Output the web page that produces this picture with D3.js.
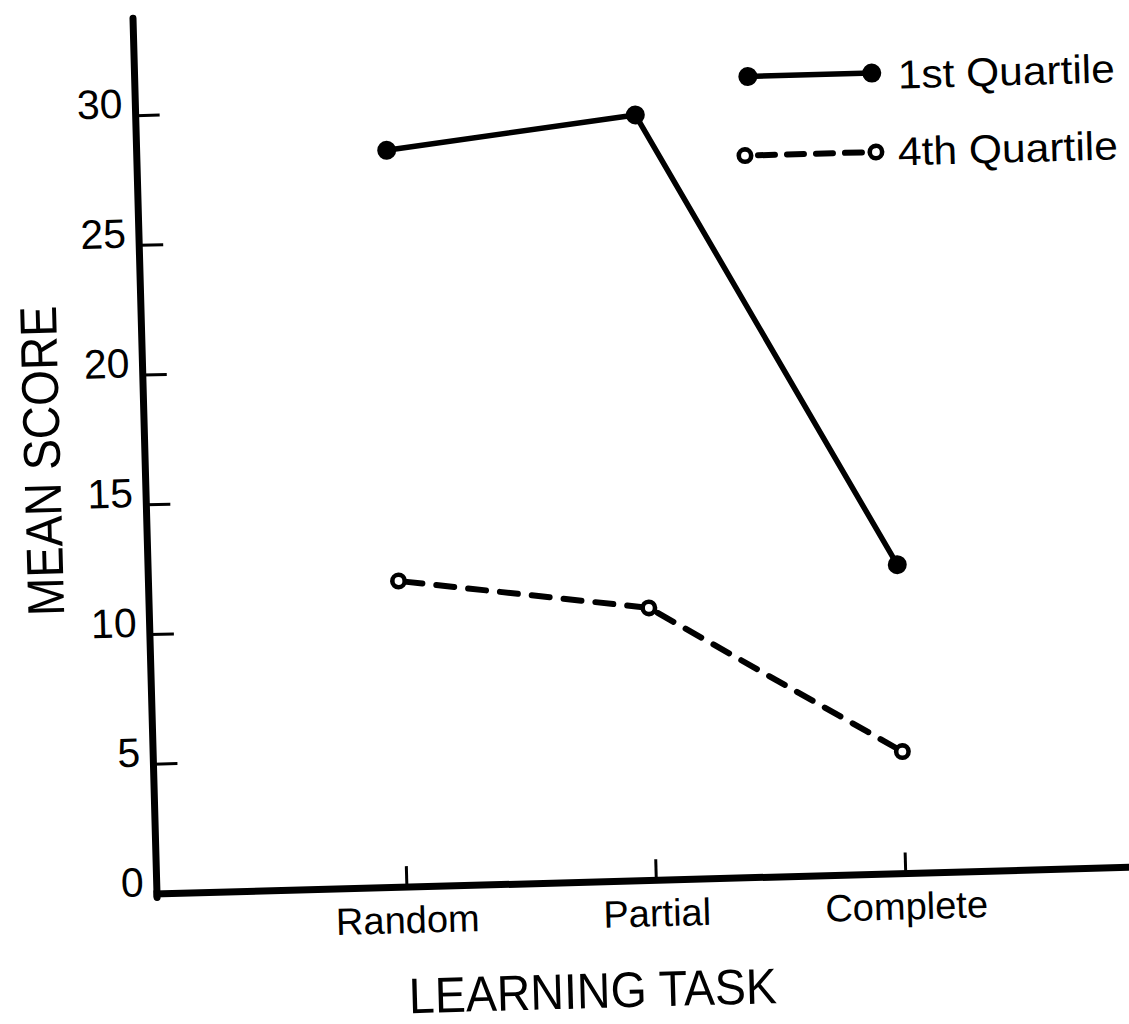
<!DOCTYPE html>
<html>
<head>
<meta charset="utf-8">
<script src="https://cdn.jsdelivr.net/npm/d3@7/dist/d3.min.js"></script>
<style>
  html, body { margin: 0; padding: 0; background: #fff; }
  svg { display: block; }
  text { font-family: "Liberation Sans", Arial, sans-serif; fill: #000; }
</style>
</head>
<body>
<div id="chart"></div>
<script>
// ---- data ----
const categories = ["Random", "Partial", "Complete"];
const q1Values = [28.4, 29.5, 11.9];   // 1st Quartile
const q4Values = [11.8, 10.5, 4.7];    // 4th Quartile
const yTickValues = [0, 5, 10, 15, 20, 25, 30];
const yTickLabels = ["0", "5", "10", "15", "20", "25", "30"];
const seriesNames = ["1st Quartile", "4th Quartile"];
const xTitle = "LEARNING TASK";
const yTitle = "MEAN SCORE";

// ---- layout ----
const W = 1129, H = 1024;
const svg = d3.select("#chart").append("svg").attr("width", W).attr("height", H);

// scanned page is slightly rotated
const g = svg.append("g").attr("transform", "translate(157,894) rotate(-1.57)");

const y = d3.scaleLinear().domain([0, 33.75]).range([0, -876]);
const x = d3.scalePoint().domain(categories).range([250, 749]);

// axes lines
g.append("line").attr("x1", 0).attr("y1", 3.5).attr("x2", 0).attr("y2", y(33.75))
  .attr("stroke", "#000").attr("stroke-width", 7).attr("stroke-linecap", "round");
g.append("line").attr("x1", -3.5).attr("y1", 0).attr("x2", 1010).attr("y2", 0)
  .attr("stroke", "#000").attr("stroke-width", 7);

// y ticks
g.selectAll(".ytick").data(yTickValues.filter(v => v > 0)).enter().append("line")
  .attr("x1", 0).attr("x2", 24).attr("y1", d => y(d)).attr("y2", d => y(d))
  .attr("stroke", "#000").attr("stroke-width", 3);
g.selectAll(".ylab").data(yTickValues).enter().append("text")
  .attr("x", -13).attr("y", d => y(d) + 2)
  .attr("text-anchor", "end").attr("font-size", 41)
  .text((d, i) => yTickLabels[i]);

// x ticks
g.selectAll(".xtick").data(categories).enter().append("line")
  .attr("x1", d => x(d)).attr("x2", d => x(d)).attr("y1", 0).attr("y2", -21)
  .attr("stroke", "#000").attr("stroke-width", 3);
g.selectAll(".xlab").data(categories).enter().append("text")
  .attr("x", d => x(d)).attr("y", 46)
  .attr("text-anchor", "middle").attr("font-size", 38)
  .text(d => d);

// titles
g.append("text").attr("x", 433).attr("y", 126).attr("text-anchor", "middle")
  .attr("font-size", 50).attr("textLength", 368).attr("lengthAdjust", "spacingAndGlyphs")
  .text(xTitle);
g.append("text").attr("transform", "translate(-85,-436) rotate(-90)")
  .attr("text-anchor", "middle").attr("font-size", 52)
  .attr("textLength", 310).attr("lengthAdjust", "spacingAndGlyphs")
  .text(yTitle);

// lines
const line = d3.line().x((d, i) => x(categories[i])).y(d => y(d));
g.append("path").datum(q1Values).attr("d", line)
  .attr("fill", "none").attr("stroke", "#000").attr("stroke-width", 5.5).attr("stroke-linejoin", "round");
g.append("path").datum(q4Values).attr("d", line)
  .attr("fill", "none").attr("stroke", "#000").attr("stroke-width", 6)
  .attr("stroke-dasharray", "18,14").attr("stroke-linecap", "round").attr("stroke-dashoffset", -6);

// markers
g.selectAll(".m1").data(q1Values).enter().append("circle")
  .attr("cx", (d, i) => x(categories[i])).attr("cy", d => y(d)).attr("r", 9.5).attr("fill", "#000");
g.selectAll(".m4").data(q4Values).enter().append("circle")
  .attr("cx", (d, i) => x(categories[i])).attr("cy", d => y(d)).attr("r", 6.2)
  .attr("fill", "#fff").attr("stroke", "#000").attr("stroke-width", 4.6);

// legend
const leg = g.append("g");
leg.append("line").attr("x1", 613).attr("x2", 737).attr("y1", -801).attr("y2", -801)
  .attr("stroke", "#000").attr("stroke-width", 5.5);
leg.selectAll(".lc1").data([613, 737]).enter().append("circle")
  .attr("cx", d => d).attr("cy", -801).attr("r", 9.5).attr("fill", "#000");
leg.append("text").attr("x", 763).attr("y", -785).attr("font-size", 40)
  .attr("textLength", 217).attr("lengthAdjust", "spacingAndGlyphs").text(seriesNames[0]);

leg.append("line").attr("x1", 617).attr("x2", 731).attr("y1", -722).attr("y2", -722)
  .attr("stroke", "#000").attr("stroke-width", 6)
  .attr("stroke-dasharray", "17,12").attr("stroke-linecap", "round").attr("stroke-dashoffset", -4);
leg.selectAll(".lc4").data([608, 739]).enter().append("circle")
  .attr("cx", d => d).attr("cy", -722).attr("r", 6.2)
  .attr("fill", "#fff").attr("stroke", "#000").attr("stroke-width", 4.6);
leg.append("text").attr("x", 761).attr("y", -708).attr("font-size", 40)
  .attr("textLength", 220).attr("lengthAdjust", "spacingAndGlyphs").text(seriesNames[1]);
</script>
</body>
</html>
